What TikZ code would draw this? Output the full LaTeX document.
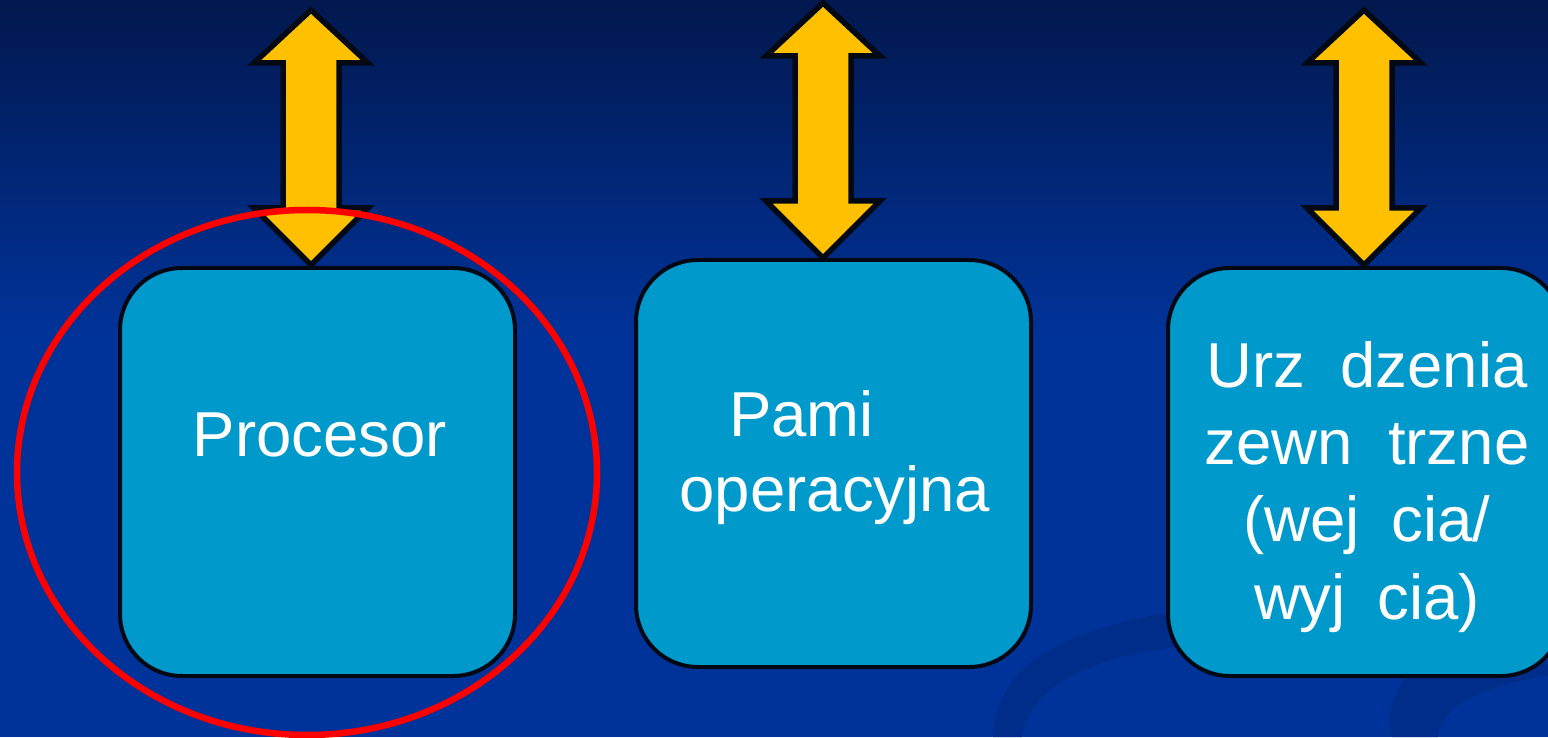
\documentclass[tikz,border=0pt]{standalone}
\usepackage{fontspec}
\setmainfont{Liberation Sans}
\usetikzlibrary{shapes.geometric}
\definecolor{bgtop}{RGB}{2,24,78}
\definecolor{bgbot}{RGB}{0,51,153}
\definecolor{swoosh}{RGB}{0,45,138}
\definecolor{boxfill}{RGB}{0,153,204}
\definecolor{arrowfill}{RGB}{255,192,0}
\definecolor{outline}{RGB}{2,8,20}
\tikzset{
  unitbox/.style={draw=outline, line width=4pt, fill=boxfill, rounded corners=62pt,
    minimum width=395pt, minimum height=408pt, inner sep=0pt},
  lbl/.style={text=white, anchor=base, inner sep=0pt, font=\fontsize{63.5}{76}\selectfont},
  arrowbody/.style={draw=outline, line width=5.5pt, fill=arrowfill, line join=miter},
  dbl/.pic={\draw[arrowbody] (0,0) -- (57,-53) -- (28,-53) -- (28,-198) -- (57,-198)
     -- (0,-255) -- (-57,-198) -- (-28,-198) -- (-28,-53) -- (-57,-53) -- cycle;},
  focusring/.style={ellipse, draw=red, line width=6.5pt, minimum width=580pt,
    minimum height=525pt, inner sep=0pt}
}
\begin{document}
\begin{tikzpicture}[x=1pt,y=1pt]
\useasboundingbox (0,0) rectangle (1548,737);
% background
\fill[bgbot] (0,0) rectangle (1548,737);
\shade[top color=bgtop, bottom color=bgbot] (0,400) rectangle (1548,737);
% swooshes
\fill[swoosh] (993,0) .. controls (995,70) and (1060,108) .. (1175,125)
  -- (1175,90) .. controls (1080,78) and (1028,45) .. (1022,0) -- cycle;
\fill[swoosh] (1392,0) .. controls (1385,25) and (1395,50) .. (1415,70)
  -- (1548,75) -- (1548,62) .. controls (1480,50) and (1440,30) .. (1438,0) -- cycle;
% boxes
\node[unitbox] (cpu) at (317.5,265) {};
\node[unitbox, minimum height=407pt] (mem) at (833.5,273.5) {};
\node[unitbox] (io) at (1365.5,265) {};
% labels
\node[lbl] (cpuL) at (320,280) {Procesor};
\node[lbl] (memL1) at (835,300) {Pami\phantom{ęć}};
\node[lbl] (memL2) at (835,225) {operacyjna};
\node[lbl] (ioL1) at (1367,349) {Urz\phantom{ą}dzenia};
\node[lbl] (ioL2) at (1367,272) {zewn\phantom{ę}trzne};
\node[lbl] (ioL3) at (1367,195) {(wej\phantom{ś}cia/};
\node[lbl] (ioL4) at (1367,118) {wyj\phantom{ś}cia)};
% double arrows
\coordinate (cpuTop) at (311,727);
\coordinate (memTop) at (823,734);
\coordinate (ioTop) at (1364,727);
\pic at (cpuTop) {dbl};
\pic at (memTop) {dbl};
\pic at (ioTop) {dbl};
% red ring
\node[focusring] (focus) at (307,264.5) {};
\end{tikzpicture}
\end{document}
